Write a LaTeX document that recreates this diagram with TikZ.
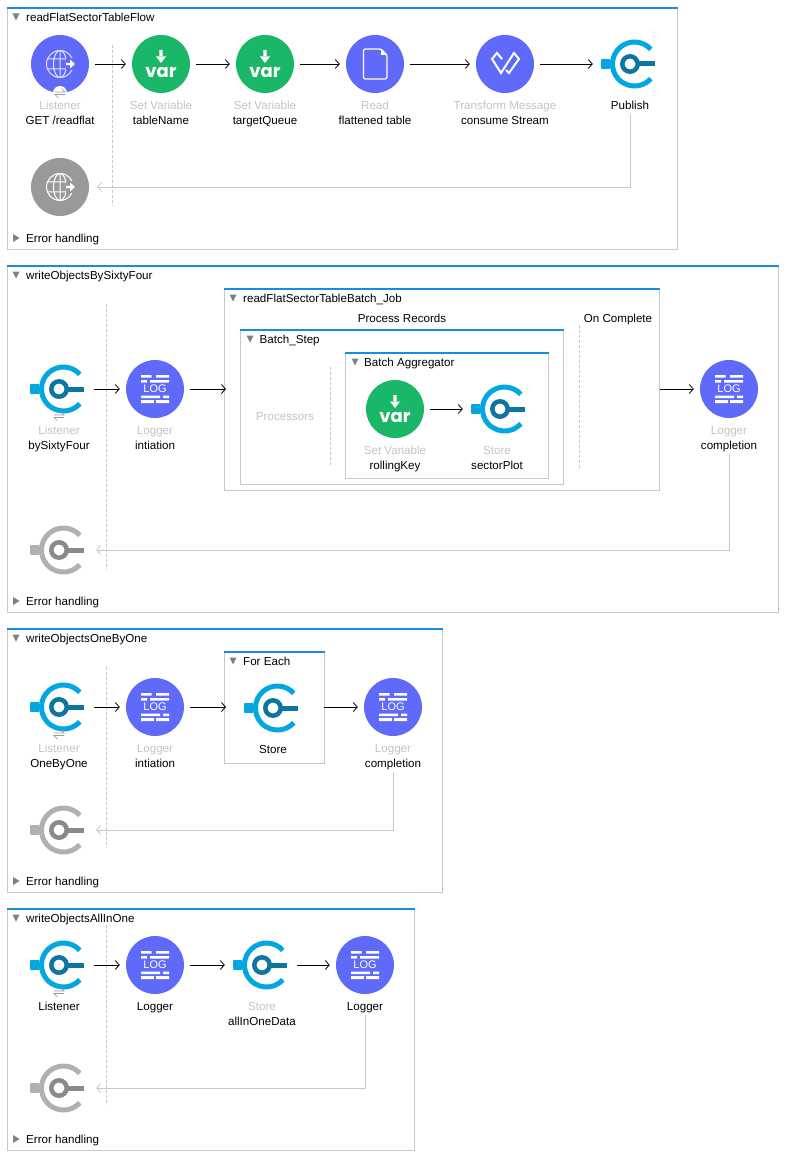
\documentclass[tikz,border=0pt]{standalone}
\usepackage{fontspec}
\setmainfont{Liberation Sans}
\newfontfamily\varfont{Poppins}
\usetikzlibrary{arrows.meta,positioning}

\definecolor{muleblue}{HTML}{1A8CE0}
\definecolor{panelgray}{HTML}{C8C8C8}
\definecolor{faint}{HTML}{C4C4C4}
\definecolor{purple}{HTML}{5F6AFB}
\definecolor{green}{HTML}{1BB768}
\definecolor{errgray}{HTML}{999999}
\definecolor{ringblue}{HTML}{02A7E1}
\definecolor{keyblue}{HTML}{0E75A0}
\definecolor{ringgray}{HTML}{B0B0B0}
\definecolor{keygray}{HTML}{8A8A8A}
\definecolor{globeline}{HTML}{DDE0FF}
\definecolor{swapgray}{HTML}{9A9A9A}

\newcommand{\atcenter}[1]{\begin{scope}[shift={(path picture bounding box.center)}]#1\end{scope}}
\newcommand{\storepic}[2]{\atcenter{
  \draw[#1,line width=5pt] (20.8,-14.7) arc[start angle=42,end angle=318,radius=22pt];
  \fill[#1] (-29,-5) rectangle (-20,5);
  \fill[#2] (7,-2.5) rectangle (25,2.5);
  \draw[#2,line width=4.5pt] (0,0) circle (7.7pt);}}
\newcommand{\globepic}[2]{\atcenter{
  \draw[#1,line width=1pt] (0,0) circle (13.5pt) (0,0) ellipse (6.5pt and 13.5pt)
    (0,-13.5) -- (0,13.5) (-12.5,-5) -- (12.5,-5) (-12.5,5) -- (12.5,5);
  \fill[#2] (6,-6) rectangle (16,6);
  \fill[white] (6,-1.2) -- (10,-1.2) -- (10,-4.5) -- (15,0) -- (10,4.5) -- (10,1.2) -- (6,1.2) -- cycle;}}
\newcommand{\varpic}{\atcenter{
  \fill[white] (-1.7,-14) rectangle (1.7,-7) (-5,-7.5) -- (5,-7.5) -- (0,-1) -- cycle;
  \node[white] (vartext) at (0,8.5) {\varfont\bfseries\fontsize{18pt}{18pt}\selectfont var};}}
\newcommand{\logpic}{\atcenter{
  \fill[white] (-14,-14) rectangle (-3.5,-11.5) (1,-14) rectangle (14,-11.5)
    (-14,-9) rectangle (-8,-6.5) (-5,-9) rectangle (14,-6.5)
    (-14,6.5) rectangle (5,9) (8,6.5) rectangle (14,9)
    (-14,11) rectangle (-1,14) (1,11) rectangle (14,14);
  \node[white] (logtext) at (0,0) {\fontsize{11pt}{11pt}\selectfont LOG};}}
\newcommand{\filepic}{\atcenter{
  \draw[white,line width=1.4pt,rounded corners=1.5pt] (-11.5,-15) -- (6,-15) -- (12,-9) -- (12,15) -- (-11.5,15) -- cycle;
  \fill[white] (6,-15) -- (6,-9) -- (12,-9) -- cycle;}}
\newcommand{\wavepic}{\atcenter{
  \draw[white,line width=2pt] (-3,-5) -- (-8,-11) -- (-13,-5) -- (-4,9) -- (9,-11) -- (14,-5) -- (4,9) -- (1,6);}}
\newcommand{\swappic}{\atcenter{
  \draw[swapgray,line width=.7pt] (-5,-1) -- (5,-1) -- (1.5,-4.5) (5,1.5) -- (-5,1.5) -- (-1.5,5);}}
\newcommand{\panel}[4]{%
  \draw[panelgray] (#1,#2) rectangle (#3,#4);
  \draw[muleblue,line width=1.8pt] (#1-.5,#2) -- (#3+.5,#2);}
\newcommand{\tridown}[2]{\fill[gray] (#1-3.5,#2-3.5) -- (#1+3.5,#2-3.5) -- (#1,#2+3.5) -- cycle;}
\newcommand{\triright}[2]{\fill[gray] (#1-3,#2-4) -- (#1+3.5,#2) -- (#1-3,#2+4) -- cycle;}

\tikzset{
  op/.style={circle,minimum size=58pt,inner sep=0pt},
  listenop/.style={op,fill=purple,path picture={\globepic{globeline}{purple}}},
  errop/.style={op,fill=errgray,path picture={\globepic{white}{errgray}}},
  varop/.style={op,fill=green,path picture={\varpic}},
  logop/.style={op,fill=purple,path picture={\logpic}},
  fileop/.style={op,fill=purple,path picture={\filepic}},
  waveop/.style={op,fill=purple,path picture={\wavepic}},
  storeop/.style={op,path picture={\storepic{ringblue}{keyblue}}},
  errstore/.style={op,path picture={\storepic{ringgray}{keygray}}},
  swapmark/.style={circle,minimum size=14pt,inner sep=0pt,path picture={\swappic}},
  lab/.style={font=\fontsize{11.6pt}{11.6pt}\selectfont,inner sep=0pt,text height=10pt,text depth=1pt},
  dim/.style={lab,text=faint},
  title/.style={lab,anchor=west},
  flow/.style={->,>={Straight Barb[length=4pt,width=9pt]},line width=.8pt,shorten <=6pt,shorten >=6pt},
  instore/.style={flow,shorten >=8pt},
  back/.style={->,>={Straight Barb[length=4pt,width=9pt]},draw=panelgray,line width=.8pt,shorten <=3pt,shorten >=8pt},
  sep/.style={draw=panelgray,densely dashed,line width=.6pt}
}

\begin{document}
\begin{tikzpicture}[x=1pt,y=-1pt,on grid]
  \useasboundingbox (0,0) rectangle (786,1158);
  \fill[white] (0,0) rectangle (786,1158);

  % first flow
  \panel{7.5}{8}{677.5}{249}
  \tridown{16}{17}
  \node[title] (flowA) at (26,17) {readFlatSectorTableFlow};
  \draw[sep] (112.5,45) -- (112.5,206);
  \node[listenop] (listenA) at (60,64) {};
  \node[varop] (tableVar) [right=101pt of listenA] {};
  \node[varop] (queueVar) [right=104pt of tableVar] {};
  \node[fileop] (readFile) [right=110pt of queueVar] {};
  \node[waveop] (consume) [right=130pt of readFile] {};
  \node[storeop] (publish) [right=125pt of consume] {};
  \node[errop] (errA) [below=123pt of listenA] {};
  \node[swapmark,fill=white] (swapA) [below=29pt of listenA] {};
  \node[dim] (listenAtype) [below=41pt of listenA] {Listener};
  \node[lab] (listenAname) [below=15pt of listenAtype] {GET /readflat};
  \node[dim] (tableType) [below=41pt of tableVar] {Set Variable};
  \node[lab] (tableName) [below=15pt of tableType] {tableName};
  \node[dim] (queueType) [below=41pt of queueVar] {Set Variable};
  \node[lab] (queueName) [below=15pt of queueType] {targetQueue};
  \node[dim] (fileType) [below=41pt of readFile] {Read};
  \node[lab] (fileName) [below=15pt of fileType] {flattened table};
  \node[dim] (waveType) [below=41pt of consume] {Transform Message};
  \node[lab] (waveName) [below=15pt of waveType] {consume Stream};
  \node[lab] (publishName) [below=41pt of publish] {Publish};
  \draw[flow] (listenA) -- (tableVar);
  \draw[flow] (tableVar) -- (queueVar);
  \draw[flow] (queueVar) -- (readFile);
  \draw[flow] (readFile) -- (consume);
  \draw[instore] (consume) -- (publish);
  \draw[back] (publishName) |- (errA);
  \triright{16}{238}
  \node[title] (errHandA) at (26,238) {Error handling};

  % second flow
  \panel{7.5}{266}{778}{612}
  \tridown{16}{275}
  \node[title] (flowB) at (26,275) {writeObjectsBySixtyFour};
  \draw[sep] (106.5,304) -- (106.5,570);
  \node[storeop] (listenB) at (59,389) {};
  \node[logop] (logB) [right=96pt of listenB] {};
  \node[swapmark] (swapB) [below=27pt of listenB] {};
  \node[dim] (listenBtype) [below=41pt of listenB] {Listener};
  \node[lab] (listenBname) [below=15pt of listenBtype] {bySixtyFour};
  \node[dim] (logBtype) [below=41pt of logB] {Logger};
  \node[lab] (logBname) [below=15pt of logBtype] {intiation};
  % batch job
  \panel{224.5}{289}{659.5}{490}
  \tridown{233}{298}
  \node[title] (jobTitle) at (243,298) {readFlatSectorTableBatch\_Job};
  \node[lab] (procRec) at (402,318) {Process Records};
  \node[lab] (onDone) at (618,318) {On Complete};
  \draw[sep] (579.5,325) -- (579.5,470);
  \panel{240.5}{330}{563}{484}
  \tridown{250}{339}
  \node[title] (stepTitle) at (259.5,339) {Batch\_Step};
  \node[dim] (procLab) at (285,416) {Processors};
  \draw[sep] (330.5,367) -- (330.5,465);
  \panel{345.5}{353}{548}{478}
  \tridown{355}{362}
  \node[title] (aggTitle) at (364,362) {Batch Aggregator};
  \node[varop] (keyVar) at (395,409) {};
  \node[storeop] (plotStore) [right=105pt of keyVar] {};
  \node[dim] (keyType) [below=41pt of keyVar] {Set Variable};
  \node[lab] (keyName) [below=15pt of keyType] {rollingKey};
  \node[dim] (plotType) at (497,450) {Store};
  \node[lab] (plotName) [below=15pt of plotType] {sectorPlot};
  \coordinate (jobIn) at (232,389);
  \coordinate (jobOut) at (654,389);
  \node[logop] (logC) at (729,389) {};
  \node[dim] (logCtype) [below=41pt of logC] {Logger};
  \node[lab] (logCname) [below=15pt of logCtype] {completion};
  \node[errstore] (errB) at (59,550) {};
  \draw[flow] (listenB) -- (logB);
  \draw[flow] (logB) -- (jobIn);
  \draw[instore] (keyVar) -- (plotStore);
  \draw[flow] (jobOut) -- (logC);
  \draw[back] (logCname) |- (errB);
  \triright{16}{601}
  \node[title] (errHandB) at (26,601) {Error handling};

  % third flow
  \panel{7.5}{629}{442}{892}
  \tridown{16}{638}
  \node[title] (flowC) at (26,638) {writeObjectsOneByOne};
  \draw[sep] (106.5,667) -- (106.5,848);
  \node[storeop] (listenC) at (59,707) {};
  \node[logop] (logD) [right=96pt of listenC] {};
  \node[swapmark] (swapC) [below=27pt of listenC] {};
  \node[dim] (listenCtype) [below=41pt of listenC] {Listener};
  \node[lab] (listenCname) [below=15pt of listenCtype] {OneByOne};
  \node[dim] (logDtype) [below=41pt of logD] {Logger};
  \node[lab] (logDname) [below=15pt of logDtype] {intiation};
  \panel{224.5}{652}{324}{763}
  \tridown{233}{661}
  \node[title] (eachTitle) at (243,661) {For Each};
  \node[storeop] (eachStore) at (273,708) {};
  \node[lab] (eachName) [below=41pt of eachStore] {Store};
  \coordinate (eachIn) at (232,707);
  \coordinate (eachOut) at (318,707);
  \node[logop] (logE) at (393,707) {};
  \node[dim] (logEtype) [below=41pt of logE] {Logger};
  \node[lab] (logEname) [below=15pt of logEtype] {completion};
  \node[errstore] (errC) at (59,830) {};
  \draw[flow] (listenC) -- (logD);
  \draw[flow] (logD) -- (eachIn);
  \draw[flow] (eachOut) -- (logE);
  \draw[back] (logEname) |- (errC);
  \triright{16}{881}
  \node[title] (errHandC) at (26,881) {Error handling};

  % fourth flow
  \panel{7.5}{909}{414}{1150}
  \tridown{16}{918}
  \node[title] (flowD) at (26,918) {writeObjectsAllInOne};
  \draw[sep] (106.5,925) -- (106.5,1105);
  \node[storeop] (listenD) at (59,965) {};
  \node[logop] (logF) [right=96pt of listenD] {};
  \node[storeop] (oneStore) [right=107pt of logF] {};
  \node[logop] (logG) [right=103pt of oneStore] {};
  \node[swapmark] (swapD) [below=27pt of listenD] {};
  \node[lab] (listenDname) [below=41pt of listenD] {Listener};
  \node[lab] (logFname) [below=41pt of logF] {Logger};
  \node[dim] (oneType) [below=41pt of oneStore] {Store};
  \node[lab] (oneName) [below=15pt of oneType] {allInOneData};
  \node[lab] (logGname) [below=41pt of logG] {Logger};
  \node[errstore] (errD) at (59,1088) {};
  \draw[flow] (listenD) -- (logF);
  \draw[instore] (logF) -- (oneStore);
  \draw[flow] (oneStore) -- (logG);
  \draw[back] (logGname) |- (errD);
  \triright{16}{1139}
  \node[title] (errHandD) at (26,1139) {Error handling};
\end{tikzpicture}
\end{document}
